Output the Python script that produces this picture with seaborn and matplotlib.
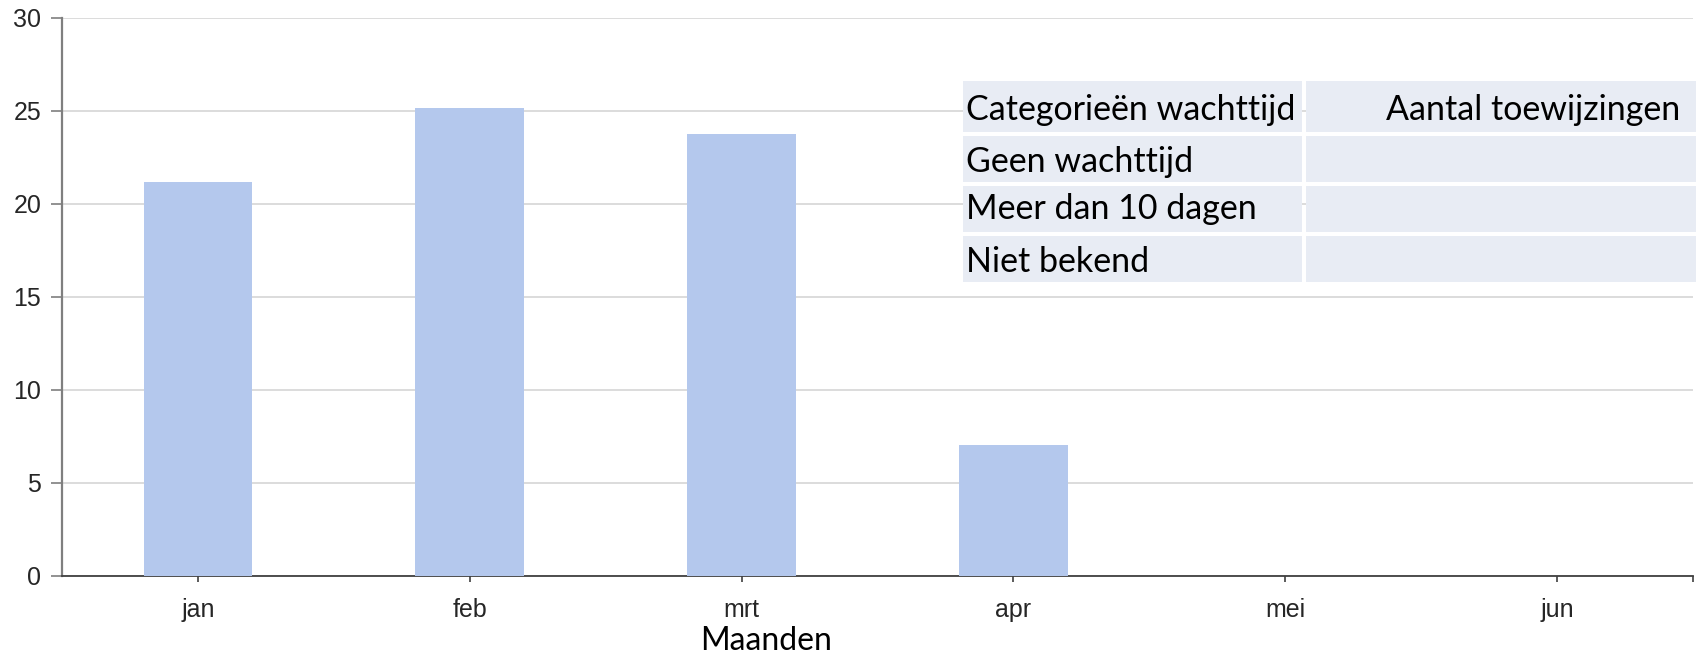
import matplotlib
matplotlib.use("Agg")
import matplotlib.pyplot as plt
from matplotlib.patches import Rectangle
from matplotlib.ticker import FixedLocator
import seaborn as sns
import pandas as pd

# ---- data ----
months = ["jan", "feb", "mrt", "apr", "mei", "jun"]
values = [21.15, 25.13, 23.75, 7.0, 0, 0]
y_ticks = [0, 5, 10, 15, 20, 25, 30]
x_label = "Maanden"
table_header = ["Categorieën wachttijd", "Aantal toewijzingen"]
table_rows = ["Geen wachttijd", "Meer dan 10 dagen", "Niet bekend"]

sns.set_theme(style="white")
plt.rcParams["font.family"] = ["Liberation Sans", "DejaVu Sans"]

W, H = 1696, 654
fig = plt.figure(figsize=(W / 100, H / 100), dpi=100)
ax = fig.add_axes([62 / W, 1 - 575.5 / H, (1693 - 62) / W, (575.5 - 17.7) / H])

df = pd.DataFrame({"maand": months, "aantal": values})
sns.barplot(data=df, x="maand", y="aantal", color="#B4C8ED", saturation=1,
            width=0.4, linewidth=0, ax=ax, zorder=3)

ax.set_xlim(-0.5, len(months) - 0.5)
ax.set_ylim(0, 30)
ax.set_yticks(y_ticks)
ax.yaxis.grid(True, color="#D9D9D9", linewidth=1.3, zorder=0)
ax.xaxis.grid(False)
ax.set_axisbelow(True)
ax.set_xlabel("")
ax.set_ylabel("")

for s in ["top", "right"]:
    ax.spines[s].set_visible(False)
ax.spines["left"].set_color("#7F7F7F")
ax.spines["left"].set_linewidth(1.6)
ax.spines["bottom"].set_color("#404040")
ax.spines["bottom"].set_linewidth(1.3)

ax.tick_params(axis="y", direction="out", length=8, width=1.2, color="#7F7F7F",
               labelsize=18, labelcolor="#262626", pad=7, left=True)
ax.tick_params(axis="x", direction="out", length=4.5, width=1.2, color="#404040",
               labelsize=18, labelcolor="#262626", pad=12, bottom=True)
ax.xaxis.set_minor_locator(FixedLocator([len(months) - 0.5]))
ax.tick_params(axis="x", which="minor", direction="out", length=4.5, width=1.2,
               color="#404040", bottom=True)

fig.text(766 / W, 1 - 641 / H, x_label, ha="center", va="center",
         fontsize=23, family=["Lato", "DejaVu Sans"], color="#000000")

# ---- table overlay (pixel coordinates) ----
ov = fig.add_axes([0, 0, 1, 1], facecolor="none")
ov.set_xlim(0, W)
ov.set_ylim(H, 0)
ov.axis("off")
cell_color = "#E8ECF4"
col_edges = [963, 1304, 1696]
row_edges = [81, 134, 183.5, 234, 282]
gap = 2
for r in range(4):
    for c in range(2):
        x0 = col_edges[c] + (gap if c > 0 else 0)
        x1 = col_edges[c + 1] - (gap if c == 0 else 0)
        y0 = row_edges[r] + (gap if r > 0 else 0)
        y1 = row_edges[r + 1] - (gap if r < 3 else 0)
        ov.add_patch(Rectangle((x0, y0), x1 - x0, y1 - y0, facecolor=cell_color,
                               edgecolor="none"))
tfont = dict(fontsize=24.5, family=["Lato", "DejaVu Sans"], color="#000000")
ov.text(966, 110, table_header[0], ha="left", va="center", **tfont)
ov.text(1680, 110, table_header[1], ha="right", va="center", **tfont)
for i, lab in enumerate(table_rows):
    yc = [162, 209, 262][i]
    ov.text(966, yc, lab, ha="left", va="center", **tfont)

fig.savefig("out.png", dpi=100)
